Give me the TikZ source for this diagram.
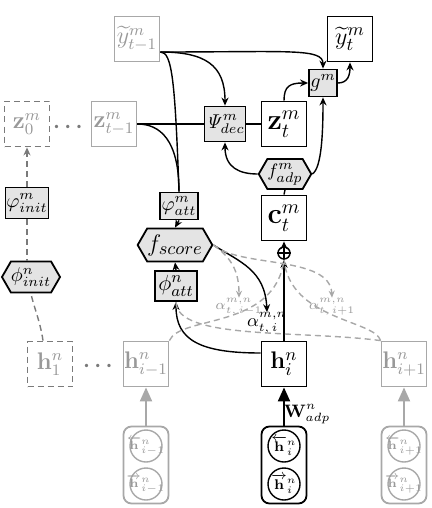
\documentclass[tikz,border=0pt]{standalone}
\usepackage{amsmath}
\usetikzlibrary{shapes.symbols,arrows.meta,calc}
\definecolor{lgray}{HTML}{A8A8A8}
\definecolor{tgray}{HTML}{999999}
\definecolor{fgray}{HTML}{E4E4E4}
\definecolor{dgray}{HTML}{7A7A7A}
\begin{document}
\begin{tikzpicture}[x=0.5pt,y=-0.5pt,
  bigbox/.style={draw=black, line width=0.9pt, minimum width=22.5pt, minimum height=22.5pt, inner sep=0pt, font=\fontsize{12}{14}\selectfont},
  ghostbox/.style={bigbox, draw=lgray, text=tgray},
  fillbox/.style={draw=black, fill=fgray, line width=0.9pt, inner sep=0pt, font=\fontsize{10}{12}\selectfont},
  hexa/.style={fillbox, shape=signal, signal to=east and west, signal pointer angle=120},
  conn/.style={line width=0.7pt, -{Stealth[length=4pt,width=3.5pt]}},
  wire/.style={line width=0.7pt},
  gdash/.style={draw=lgray, line width=0.7pt, dash pattern=on 3pt off 2pt},
  gconn/.style={-{Stealth[length=3.5pt,width=3pt]}},
  ldash/.style={draw=dgray, line width=0.7pt, dash pattern=on 3pt off 2pt},
  bibox/.style={draw=black, line width=0.9pt, rounded corners=4pt, minimum width=22.5pt, minimum height=38.5pt, inner sep=0pt},
  circ/.style={circle, draw=black, line width=0.7pt, minimum size=16pt, inner sep=-3pt, font=\fontsize{7.5}{8}\selectfont},
  gcirc/.style={circ, draw=lgray, text=tgray, font=\fontsize{6.5}{7}\selectfont},
  alab/.style={inner sep=0pt, font=\fontsize{9}{10}\selectfont},
  galab/.style={inner sep=0pt, text=tgray, font=\fontsize{7.5}{8}\selectfont}
]
\useasboundingbox (0,0) rectangle (432,508);

% top row
\node[ghostbox] (yprev) at (137,39) {$\widetilde{y}^m_{t-1}$};
\node[bigbox, font=\fontsize{13}{15}\selectfont] (yt) at (350,39) {$\widetilde{y}^m_t$};
\node[fillbox, minimum width=14pt, minimum height=13.5pt] (g) at (323,83) {$g^m$};

% z row
\node[ghostbox, draw=dgray, dash pattern=on 3pt off 2pt] (z0) at (27,124) {$\mathbf{z}^m_0$};
\node[text=dgray, font=\fontsize{11}{13}\selectfont] (d1) at (70,127) {$\boldsymbol{\cdots}$};
\node[ghostbox] (zprev) at (114,124) {$\mathbf{z}^m_{t-1}$};
\node[fillbox, minimum width=20.5pt, minimum height=17.5pt] (psi) at (225,124) {$\mathit{\Psi}^m_{dec}$};
\node[bigbox, font=\fontsize{14}{16}\selectfont] (zt) at (284,124) {$\mathbf{z}^m_t$};

% adaptation and context
\node[hexa, minimum width=23pt, minimum height=15pt, font=\fontsize{9.5}{11}\selectfont] (fadp) at (285,174) {$f^m_{adp}$};
\node[bigbox, font=\fontsize{14}{16}\selectfont] (ct) at (284,218) {$\mathbf{c}^m_t$};
\node[circle, draw=black, line width=0.7pt, minimum size=6pt, inner sep=0pt] (op) at (284,253) {};
\draw[line width=0.6pt] (op.north) -- (op.south) (op.west) -- (op.east);

% attention
\node[fillbox, minimum width=19pt, minimum height=13.5pt] (phiattm) at (179,206) {$\varphi^m_{att}$};
\node[hexa, minimum width=37pt, minimum height=16.5pt, font=\fontsize{12.5}{14}\selectfont] (fscore) at (175,245) {$f_{score}$};
\node[fillbox, minimum width=21pt, minimum height=15pt, font=\fontsize{11}{13}\selectfont] (phiattn) at (176,286) {$\phi^n_{att}$};

% init
\node[fillbox, minimum width=21.5pt, minimum height=15.5pt] (phiinitm) at (27,203) {$\varphi^m_{init}$};
\node[hexa, minimum width=24pt, minimum height=15.5pt] (phiinitn) at (31,277) {$\phi^n_{init}$};

% h row
\node[ghostbox, draw=dgray, dash pattern=on 3pt off 2pt] (h1) at (50,364) {$\mathbf{h}^n_1$};
\node[text=dgray, font=\fontsize{11}{13}\selectfont] (d2) at (100,366) {$\boldsymbol{\cdots}$};
\node[ghostbox] (him1) at (146,364) {$\mathbf{h}^n_{i-1}$};
\node[bigbox, font=\fontsize{13}{15}\selectfont] (hi) at (284,364) {$\mathbf{h}^n_i$};
\node[ghostbox] (hip1) at (404,364) {$\mathbf{h}^n_{i+1}$};

% bidirectional states
\node[bibox, draw=lgray] (bim1) at (146,465) {};
\node[gcirc] (bim1a) at (146,446) {$\overleftarrow{\mathbf{h}}{}^n_{i-1}$};
\node[gcirc] (bim1b) at (146,484) {$\overrightarrow{\mathbf{h}}{}^n_{i-1}$};
\node[bibox] (bi) at (284,465) {};
\node[circ] (bia) at (284,446) {$\overleftarrow{\mathbf{h}}{}^n_{i}$};
\node[circ] (bib) at (284,484) {$\overrightarrow{\mathbf{h}}{}^n_{i}$};
\node[bibox, draw=lgray] (bip1) at (404,465) {};
\node[gcirc] (bip1a) at (404,446) {$\overleftarrow{\mathbf{h}}{}^n_{i+1}$};
\node[gcirc] (bip1b) at (404,484) {$\overrightarrow{\mathbf{h}}{}^n_{i+1}$};

\draw[line width=1pt, -{Triangle[length=7pt,width=6pt]}] (bi.north) -- (hi.south);
\draw[line width=1pt, draw=lgray, -{Triangle[length=7pt,width=6pt]}] (bim1.north) -- (him1.south);
\draw[line width=1pt, draw=lgray, -{Triangle[length=7pt,width=6pt]}] (bip1.north) -- (hip1.south);
\node[inner sep=0pt, font=\fontsize{9}{10}\selectfont] (wadp) at (307,414) {$\mathbf{W}^n_{adp}$};

% alpha labels
\node[alab] (ai) at (267,323) {$\alpha^{m,n}_{t,\,i}$};
\node[galab] (aim1) at (239,307) {$\alpha^{m,n}_{t,\,i-1}$};
\node[galab] (aip1) at (332,307) {$\alpha^{m,n}_{t,\,i+1}$};

% connectors from previous target
\coordinate (ya) at ($(yprev.east)+(0,13)$);
\draw[conn] (ya) .. controls (290,52) and (323,48) .. (g.north);
\draw[conn] (ya) .. controls (205,52) and (225,65) .. (psi.north);
\draw[wire] (ya) .. controls (172,52) and (175,80) .. (phiattm.north);
\draw[wire] (zprev.east) -- (psi.west);
\draw[wire] (zprev.east) .. controls (160,124) and (179,140) .. (phiattm.north);
\draw[wire] (psi.east) -- (zt.west);
\draw[conn] (zt.north) .. controls (284,86) and (290,83) .. (g.west);
\draw[conn] (g.east) .. controls (348,83) and (350,75) .. (yt.south);
\draw[conn] (fadp.east) .. controls (322,168) and (323,130) .. (g.south);
\draw[conn] (fadp.west) .. controls (240,174) and (225,168) .. (psi.south);
\draw[wire] (fadp.south) -- (ct.north);
\draw[conn] (op.north) -- (ct.south);
\draw[conn] (hi.north) -- (op.south);
\draw[conn] (phiattm.south) -- (fscore.north);
\draw[conn] (phiattn.north) -- (fscore.south);
\draw[conn] ($(hi.west)+(0,-11)$) .. controls (200,353) and (176,340) .. (phiattn.south);
\draw[conn] (fscore.east) .. controls (240,262) and (265,270) .. (ai.north);

% dashed attention paths
\draw[gdash, gconn] (fscore.east) .. controls (232,258) and (239,272) .. (aim1.north);
\draw[gdash, gconn] (fscore.east) .. controls (240,268) and (330,255) .. (aip1.north);
\draw[gdash] (him1.north east) .. controls (180,315) and (275,330) .. (op.south);
\draw[gdash] (hip1.north west) .. controls (375,320) and (290,320) .. (op.south);
\draw[gdash] (hip1.north west) .. controls (300,330) and (176,340) .. (phiattn.south);

% init chain
\draw[ldash] ($(h1.north)+(-7,0)$) .. controls (40,320) and (33,305) .. (phiinitn.south);
\draw[ldash] (phiinitm.south) -- (phiinitm.south |- phiinitn.north);
\draw[ldash, -{Stealth[length=4pt,width=3.5pt]}] (phiinitm.north) -- (z0.south);
\end{tikzpicture}
\end{document}
